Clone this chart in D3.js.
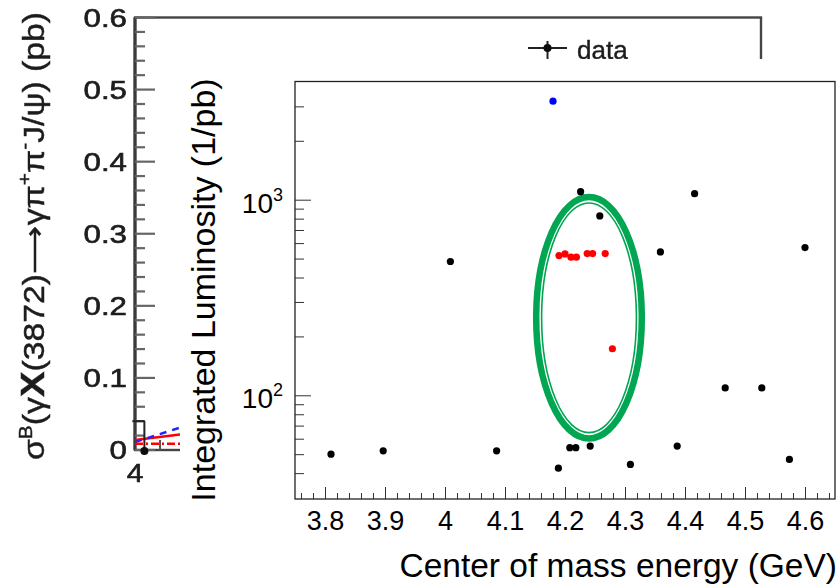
<!DOCTYPE html>
<html>
<head>
<meta charset="utf-8">
<script src="https://cdn.jsdelivr.net/npm/d3@7"></script>
<style>
  body { margin: 0; background: #fff; }
  svg { display: block; font-family: "Liberation Sans", Arial, sans-serif; }
</style>
</head>
<body>
<svg id="chart" width="839" height="585"></svg>
<script>
// ---- background plot (cross section, mostly hidden) ----
const bgYTicks = [0, 0.1, 0.2, 0.3, 0.4, 0.5, 0.6];
const bgPointE = [4.009];
const bgPointS = [0.0];
const bgPointErr = [0.04];
const bgSolidLine = [[4.0, 0.014], [4.045, 0.022]];
const bgDashLine = [[4.0, 0.011], [4.045, 0.032]];
const bgDashDotLine = [[4.0, 0.0085], [4.045, 0.0085]];

// ---- inset: luminosity vs energy ----
const xTickLabels = [3.8, 3.9, 4, 4.1, 4.2, 4.3, 4.4, 4.5, 4.6];
const yMajorTicks = [100, 1000];
const yMinorTicks = [40, 50, 60, 70, 80, 90, 200, 300, 400, 500, 600, 700, 800, 900, 2000, 3000];

const blackE = [3.810, 3.897, 4.009, 4.086, 4.189, 4.208, 4.218, 4.226, 4.242, 4.258, 4.309, 4.359, 4.387, 4.416, 4.467, 4.528, 4.574, 4.600];
const blackL = [50, 52, 483, 52, 42.4, 54, 54, 1099, 55, 826, 44.3, 541, 55, 1073, 109, 109, 47, 569];
const redE = [4.190, 4.200, 4.210, 4.219, 4.237, 4.246, 4.267, 4.279];
const redL = [518, 528, 508, 508, 530, 530, 530, 173];
const blueE = [4.180];
const blueL = [3189];

// highlight ring (centre energy, centre lumi, half width in GeV, half height in decades)
const ringOuter = [4.24, 249, 0.088, 0.617];
const ringInner = [4.24, 249, 0.079, 0.587];

const svg = d3.select("#chart");

svg.append("defs").append("filter")
    .attr("id", "soft")
  .append("feGaussianBlur")
    .attr("stdDeviation", 0.5);

// ================= background =================
const bg = svg.append("g").attr("filter", "url(#soft)");

const bgX = d3.scaleLinear().domain([4.0, 4.6]).range([135, 761]);
const bgY = d3.scaleLinear().domain([0, 0.6]).range([450, 17.5]);

bg.append("rect")
    .attr("x", bgX(4.0))
    .attr("y", bgY(0.6))
    .attr("width", bgX(4.6) - bgX(4.0))
    .attr("height", bgY(0) - bgY(0.6))
    .attr("fill", "none")
    .attr("stroke", "#444")
    .attr("stroke-width", 2.4);

bg.append("line")
    .attr("x1", bgX(4.0)).attr("x2", bgX(4.0))
    .attr("y1", bgY(0.6)).attr("y2", bgY(0))
    .attr("stroke", "#3a3a3a")
    .attr("stroke-width", 3.2);

const bgMinor = d3.range(0, 31).map(i => i * 0.02);
bg.append("g")
    .selectAll("line")
    .data(bgMinor)
    .join("line")
      .attr("x1", bgX(4.0))
      .attr("x2", (d, i) => bgX(4.0) + (i % 5 === 0 ? 20 : 10))
      .attr("y1", d => bgY(d))
      .attr("y2", d => bgY(d))
      .attr("stroke", "#666")
      .attr("stroke-width", 2.2);

bg.append("g")
    .selectAll("text")
    .data(bgYTicks)
    .join("text")
      .attr("transform", d => `translate(127,${bgY(d) + 9}) scale(1.25,1)`)
      .attr("text-anchor", "end")
      .attr("font-size", 25)
      .attr("fill", "#1c1c1c")
      .attr("stroke", "#1c1c1c")
      .attr("stroke-width", 0.6)
      .text(d => d === 0 ? "0" : d3.format(".1f")(d));

bg.append("text")
    .attr("transform", `translate(${bgX(4.0)},482) scale(1.2,1)`)
    .attr("text-anchor", "middle")
    .attr("font-size", 25)
    .attr("fill", "#1c1c1c")
    .attr("stroke", "#1c1c1c")
    .attr("stroke-width", 0.6)
    .text("4");

// small x tick
bg.append("line")
    .attr("x1", bgX(4.024)).attr("x2", bgX(4.024))
    .attr("y1", bgY(0)).attr("y2", bgY(0) - 10)
    .attr("stroke", "#555").attr("stroke-width", 2);

const bgLine = d3.line().x(d => bgX(d[0])).y(d => bgY(d[1]));
bg.append("path").attr("d", bgLine(bgSolidLine))
    .attr("fill", "none").attr("stroke", "#f00").attr("stroke-width", 2.5);
bg.append("path").attr("d", bgLine(bgDashLine))
    .attr("fill", "none").attr("stroke", "#22f").attr("stroke-width", 2.5)
    .attr("stroke-dasharray", "7,6");
bg.append("path").attr("d", bgLine(bgDashDotLine))
    .attr("fill", "none").attr("stroke", "#f00").attr("stroke-width", 2.5)
    .attr("stroke-dasharray", "8,3,2,3");

bgPointE.forEach((e, i) => {
  const px = bgX(e), py = bgY(bgPointS[i]), pt = bgY(bgPointS[i] + bgPointErr[i]);
  bg.append("line").attr("x1", px).attr("x2", px).attr("y1", pt).attr("y2", py)
      .attr("stroke", "#222").attr("stroke-width", 2);
  bg.append("line").attr("x1", px - 12).attr("x2", px).attr("y1", pt).attr("y2", pt)
      .attr("stroke", "#222").attr("stroke-width", 2);
  bg.append("circle").attr("cx", px).attr("cy", py + 1).attr("r", 4).attr("fill", "#111");
});

// y title of the background plot
const bgTitle = bg.append("text")
    .attr("transform", "translate(44,236) rotate(-90)")
    .attr("text-anchor", "middle")
    .attr("font-size", 29)
    .attr("fill", "#1c1c1c")
    .attr("stroke", "#1c1c1c")
    .attr("stroke-width", 0.4)
    .attr("textLength", 448)
    .attr("lengthAdjust", "spacingAndGlyphs");
bgTitle.append("tspan").text("σ");
bgTitle.append("tspan").attr("font-size", 18).attr("dy", -12).text("B");
bgTitle.append("tspan").attr("dy", 12).text("(γ");
bgTitle.append("tspan").attr("font-size", 33).attr("font-weight", "bold").text("X");
bgTitle.append("tspan").text("(3872)⟶γπ");
bgTitle.append("tspan").attr("font-size", 18).attr("dy", -13).text("+");
bgTitle.append("tspan").attr("dy", 13).text("π");
bgTitle.append("tspan").attr("font-size", 18).attr("dy", -13).text("-");
bgTitle.append("tspan").attr("dy", 13).text("J/ψ) (pb)");

// legend
bg.append("line").attr("x1", 528).attr("x2", 567).attr("y1", 48).attr("y2", 48)
    .attr("stroke", "#222").attr("stroke-width", 2);
bg.append("line").attr("x1", 547.5).attr("x2", 547.5).attr("y1", 41).attr("y2", 60)
    .attr("stroke", "#222").attr("stroke-width", 2);
bg.append("circle").attr("cx", 547.5).attr("cy", 48).attr("r", 4).attr("fill", "#111");
bg.append("text").attr("x", 577).attr("y", 59).attr("font-size", 26)
    .attr("fill", "#1c1c1c").attr("stroke", "#1c1c1c").attr("stroke-width", 0.4).text("data");

// ================= inset =================
svg.append("rect")
    .attr("x", 180).attr("y", 59)
    .attr("width", 659).attr("height", 526)
    .attr("fill", "#fff");

const x = d3.scaleLinear().domain([3.75, 4.65]).range([295, 835]);
const y = d3.scaleLog().domain([29.5, 4020]).range([499, 81.5]);

const inset = svg.append("g");

const xMinor = d3.range(0, 45).map(i => +(3.76 + i * 0.02).toFixed(2))
    .filter(v => !xTickLabels.some(t => Math.abs(t - v) < 1e-6));

inset.append("g")
    .attr("transform", `translate(0,${y.range()[0]})`)
    .call(d3.axisBottom(x).tickValues(xMinor).tickSize(-6).tickFormat(""))
    .call(g => g.select(".domain").remove())
    .call(g => g.selectAll(".tick line").attr("stroke", "#333"));

inset.append("g")
    .attr("transform", `translate(0,${y.range()[0]})`)
    .call(d3.axisBottom(x).tickValues(xTickLabels).tickSize(-12).tickPadding(0).tickFormat(d3.format("")))
    .call(g => g.select(".domain").remove())
    .call(g => g.selectAll(".tick line").attr("stroke", "#333"))
    .call(g => g.selectAll(".tick text")
        .attr("y", 31).attr("dy", 0)
        .attr("font-size", 27)
        .attr("font-family", "Liberation Sans, Arial, sans-serif")
        .attr("fill", "#000"));

inset.append("g")
    .attr("transform", `translate(${x.range()[0]},0)`)
    .call(d3.axisLeft(y).tickValues(yMinorTicks).tickSize(-9).tickFormat(""))
    .call(g => g.select(".domain").remove())
    .call(g => g.selectAll(".tick line").attr("stroke", "#333"));

inset.append("g")
    .attr("transform", `translate(${x.range()[0]},0)`)
    .call(d3.axisLeft(y).tickValues(yMajorTicks).tickSize(-16).tickFormat(""))
    .call(g => g.select(".domain").remove())
    .call(g => g.selectAll(".tick line").attr("stroke", "#333"));

const yLab = inset.append("g")
    .selectAll("text")
    .data(yMajorTicks)
    .join("text")
      .attr("x", 283)
      .attr("y", d => y(d) + 13)
      .attr("text-anchor", "end")
      .attr("font-size", 28)
      .attr("fill", "#000");
yLab.append("tspan").text("10");
yLab.append("tspan").attr("font-size", 18).attr("dy", -12).text(d => Math.round(Math.log10(d)));

inset.append("rect")
    .attr("x", x.range()[0]).attr("y", y.range()[1])
    .attr("width", x.range()[1] - x.range()[0])
    .attr("height", y.range()[0] - y.range()[1])
    .attr("fill", "none")
    .attr("stroke", "#222")
    .attr("stroke-width", 1.3);

// axis titles
inset.append("text")
    .attr("x", 837).attr("y", 577)
    .attr("text-anchor", "end")
    .attr("font-size", 33.5)
    .attr("fill", "#000")
    .text("Center of mass energy (GeV)");

inset.append("text")
    .attr("transform", "translate(215,290) rotate(-90)")
    .attr("text-anchor", "middle")
    .attr("font-size", 34)
    .attr("fill", "#000")
    .text("Integrated Luminosity (1/pb)");

// ring
function ring(r, w) {
  const cx = x(r[0]), cy = y(r[1]);
  inset.append("ellipse")
      .attr("cx", cx).attr("cy", cy)
      .attr("rx", x(r[0] + r[2]) - cx)
      .attr("ry", cy - y(r[1] * Math.pow(10, r[3])))
      .attr("fill", "none")
      .attr("stroke", "#00a651")
      .attr("stroke-width", w);
}
ring(ringOuter, 6.5);
ring(ringInner, 1.6);

// points
function dots(es, ls, color) {
  inset.append("g")
      .selectAll("circle")
      .data(es.map((e, i) => [e, ls[i]]))
      .join("circle")
        .attr("cx", d => x(d[0]))
        .attr("cy", d => y(d[1]))
        .attr("r", 3.6)
        .attr("fill", color);
}
dots(blackE, blackL, "#000");
dots(redE, redL, "#f00");
dots(blueE, blueL, "#00f");
</script>
</body>
</html>
